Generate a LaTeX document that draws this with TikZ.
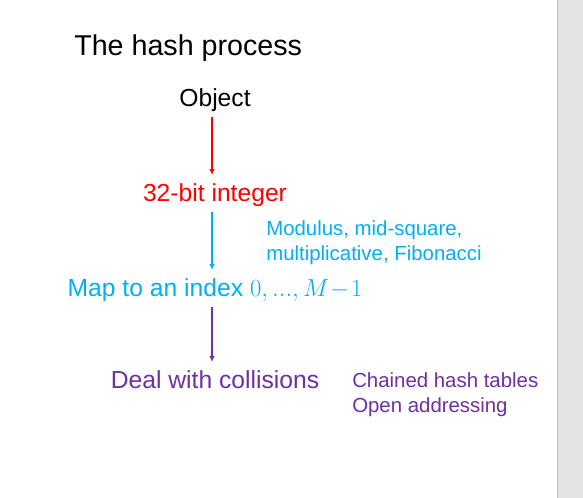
\RequirePackage{fix-cm}
\documentclass[tikz,border=0pt]{standalone}
\usepackage{fontspec}
\setmainfont{Liberation Sans}
\usetikzlibrary{positioning}
\usetikzlibrary{arrows.meta}
\definecolor{hred}{RGB}{255,0,0}
\definecolor{hblue}{RGB}{0,176,240}
\definecolor{hpurple}{RGB}{112,48,160}
\tikzset{
    stage/.style = {anchor=base, inner sep=6pt, text height=14pt, text depth=1pt, font=\fontsize{18.5}{22}\selectfont},
    note/.style = {anchor=base west, inner sep=0pt, align=left, font=\fontsize{15.3}{18.75}\selectfont},
    heading/.style = {anchor=base west, inner sep=0pt, font=\fontsize{21.5}{26}\selectfont},
    edgen/.style = {-{Latex[length=4.5pt,width=4pt]}, line width=1.2pt},
    edger/.style = {edgen, color=hred},
    edgeb/.style = {edgen, color=hblue},
    edgep/.style = {edgen, color=hpurple}
}

\begin{document}
\begin{tikzpicture}[x=0.75pt,y=-0.75pt]
\useasboundingbox (0,0) rectangle (583,498);
\fill[white] (0,0) rectangle (557,498);
\fill[black!11] (557,0) rectangle (583,498);
\draw[black!25] (557,0) -- (557,498);
%
\node[heading] at (74,56) (title) {The hash process};
\node[stage] at (215,107) (obj) {Object};
\node[stage, text=hred] at (215,202) (int) {32-bit integer};
\node[stage, text=hblue] at (215,297) (idx) {Map to an index $0, ..., M\!-\!1$};
\node[stage, text=hpurple] at (215,389) (coll) {Deal with collisions};
% last line's baseline
\node[note, text=hblue] at (266,261) (hashfn) {Modulus, mid-square,\\multiplicative, Fibonacci};
\node[note, text=hpurple] at (352,413) (resolve) {Chained hash tables\\Open addressing};
%
\draw[edger] ([xshift=-2.25pt]obj.south) -- ([xshift=-2.25pt]int.north);
\draw[edgeb] ([xshift=-2.25pt]int.south) -- ([xshift=-2.25pt]idx.north);
\draw[edgep] ([xshift=-2.25pt]idx.south) -- ([xshift=-2.25pt]coll.north);
\end{tikzpicture}
\end{document}
